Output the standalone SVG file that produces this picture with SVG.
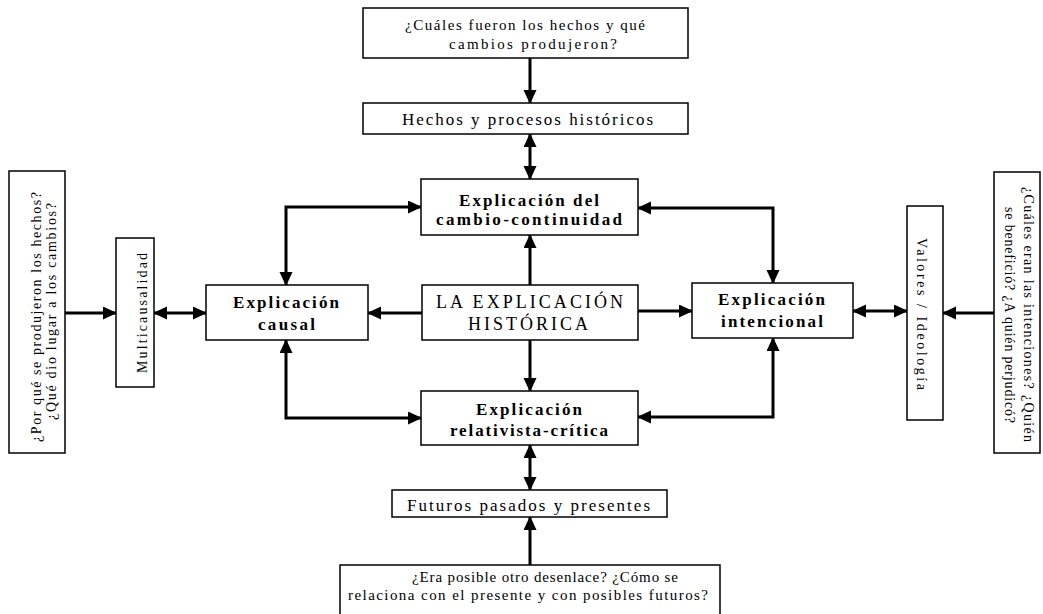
<svg xmlns="http://www.w3.org/2000/svg" width="1043" height="614" viewBox="0 0 1043 614">
<defs>
<style>
.box{fill:#fff;stroke:#000;stroke-width:1.5}
.t{font-family:"Liberation Serif","Times New Roman",serif;fill:#000;font-size:15px}
.tl{font-size:17px}
.b{font-weight:bold;font-size:17px}
.c{font-size:18px}
.r{font-size:14px}
.con{fill:none;stroke:#000;stroke-width:3}
.one{marker-end:url(#ah)}
.two{marker-start:url(#ah);marker-end:url(#ah)}
</style>
<marker id="ah" markerUnits="userSpaceOnUse" markerWidth="14" markerHeight="14" refX="13" refY="6.5" orient="auto-start-reverse">
<path d="M0,0 L14,6.5 L0,13 z" fill="#000"/>
</marker>
</defs>
<rect width="1043" height="614" fill="#fff"/>
<g id="connectors">
<path class="con one" d="M530,58 V103"/>
<path class="con two" d="M530,134 V179"/>
<path class="con one" d="M530,285 V235"/>
<path class="con one" d="M422,313 H368"/>
<path class="con one" d="M638,311 H692"/>
<path class="con one" d="M530,340 V391"/>
<path class="con two" d="M286,285 V207 H421"/>
<path class="con two" d="M773,283 V208 H638"/>
<path class="con two" d="M286,340 V418 H421"/>
<path class="con two" d="M773,338 V417 H638"/>
<path class="con two" d="M530,445 V490"/>
<path class="con one" d="M530,565 V517"/>
<path class="con one" d="M65,313 H116"/>
<path class="con two" d="M154,313 H206"/>
<path class="con two" d="M853,311 H907"/>
<path class="con one" d="M994,313 H943"/>
</g>
<g id="q-top">
<rect class="box" x="363" y="8" width="325" height="50"/>
<text class="t" x="405" y="30" textLength="240">¿Cuáles fueron los hechos y qué</text>
<text class="t" x="449" y="49" textLength="168">cambios produjeron?</text>
</g>
<g id="hechos">
<rect class="box" x="363" y="103" width="325" height="31"/>
<text class="t tl" x="402" y="125" textLength="251">Hechos y procesos históricos</text>
</g>
<g id="cambio">
<rect class="box" x="421" y="179" width="217" height="56"/>
<text class="t b" x="459" y="206" textLength="140">Explicación del</text>
<text class="t b" x="436" y="225" textLength="186">cambio-continuidad</text>
</g>
<g id="causal">
<rect class="box" x="206" y="285" width="162" height="55"/>
<text class="t b" x="233" y="308" textLength="106">Explicación</text>
<text class="t b" x="258" y="330" textLength="57">causal</text>
</g>
<g id="centro">
<rect class="box" x="422" y="285" width="216" height="55"/>
<text class="t c" x="436" y="308" textLength="187">LA EXPLICACIÓN</text>
<text class="t c" x="468" y="330" textLength="120">HISTÓRICA</text>
</g>
<g id="intencional">
<rect class="box" x="692" y="283" width="161" height="55"/>
<text class="t b" x="718" y="305" textLength="107">Explicación</text>
<text class="t b" x="721" y="327" textLength="102">intencional</text>
</g>
<g id="relativista">
<rect class="box" x="421" y="391" width="217" height="54"/>
<text class="t b" x="476" y="415" textLength="106">Explicación</text>
<text class="t b" x="450" y="436" textLength="158">relativista-crítica</text>
</g>
<g id="futuros">
<rect class="box" x="392" y="490" width="275" height="27"/>
<text class="t tl" x="407" y="511" textLength="243">Futuros pasados y presentes</text>
</g>
<g id="q-bottom">
<rect class="box" x="340" y="565" width="380" height="60"/>
<text class="t" x="412" y="582" textLength="266">¿Era posible otro desenlace? ¿Cómo se</text>
<text class="t" x="348" y="600" textLength="360">relaciona con el presente y con posibles futuros?</text>
</g>
<g id="q-left">
<rect class="box" x="9" y="171" width="56" height="282"/>
<text class="t r" transform="translate(41,442) rotate(-90)" textLength="250">¿Por qué se produjeron los hechos?</text>
<text class="t r" transform="translate(56,420) rotate(-90)" textLength="217">¿Qué dio lugar a los cambios?</text>
</g>
<g id="multicausalidad">
<rect class="box" x="116" y="238" width="38" height="149"/>
<text class="t r" transform="translate(147,373) rotate(-90)" textLength="120">Multicausalidad</text>
</g>
<g id="valores">
<rect class="box" x="907" y="206" width="36" height="214"/>
<text class="t r" transform="translate(917,238) rotate(90)" textLength="152">Valores / Ideología</text>
</g>
<g id="q-right">
<rect class="box" x="994" y="172" width="46" height="281"/>
<text class="t r" transform="translate(1024,187) rotate(90)" textLength="255">¿Cuáles eran las intenciones? ¿Quién</text>
<text class="t r" transform="translate(1005,207) rotate(90)" textLength="216">se benefició? ¿A quién perjudicó?</text>
</g>
</svg>
